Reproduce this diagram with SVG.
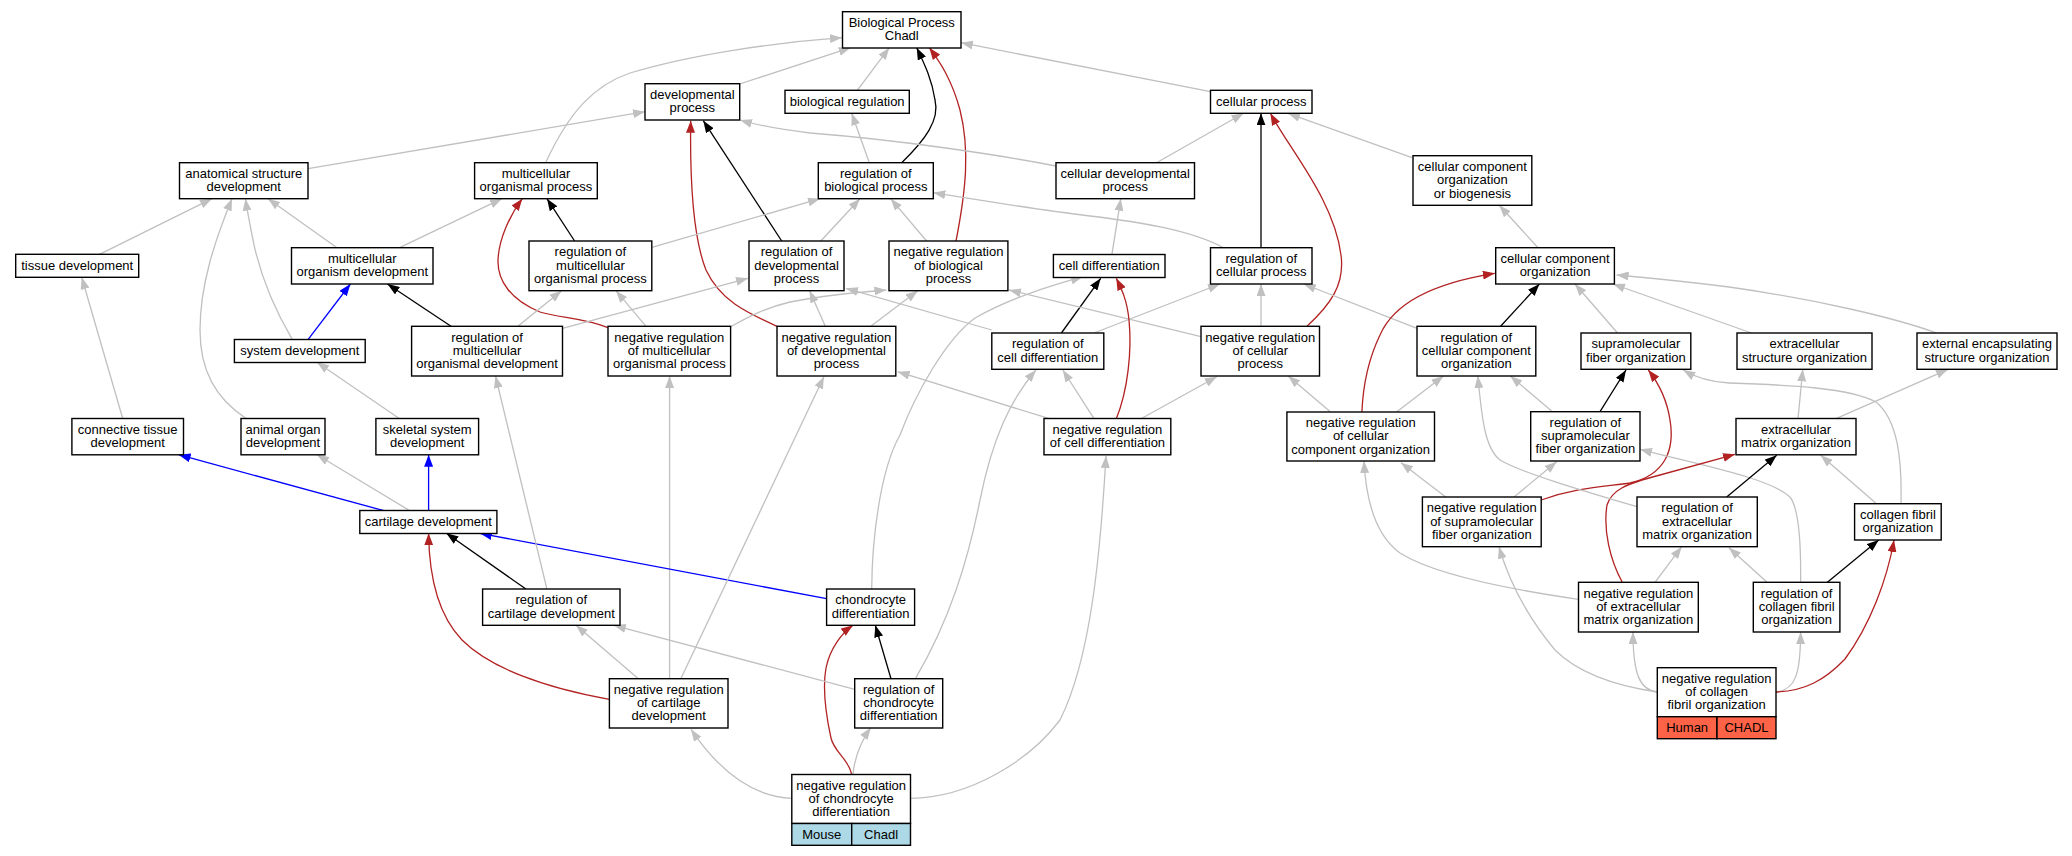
<svg xmlns="http://www.w3.org/2000/svg" width="2072" height="856" viewBox="0 0 2072 856">
<style>
.n rect{fill:#fff;stroke:#000;stroke-width:1.4}
.n text{font-family:"Liberation Sans",Arial,sans-serif;font-size:13px;text-anchor:middle;fill:#000}
#edges path{fill:none;stroke-width:1.3}
.g{stroke:#c0c0c0;marker-end:url(#ag)}
.k{stroke:#000;marker-end:url(#ak)}
.r{stroke:#b22222;marker-end:url(#ar)}
.b{stroke:#0000ff;marker-end:url(#ab)}
.n rect.mo{fill:#add8e6}
.n rect.hu{fill:#ff6347}
</style>
<defs>
<marker id="ag" viewBox="0 0 12 9" refX="12" refY="4.5" markerWidth="12" markerHeight="9" markerUnits="userSpaceOnUse" orient="auto"><path d="M0,0L12,4.5L0,9z" fill="#c0c0c0"/></marker>
<marker id="ak" viewBox="0 0 12 9" refX="12" refY="4.5" markerWidth="12" markerHeight="9" markerUnits="userSpaceOnUse" orient="auto"><path d="M0,0L12,4.5L0,9z" fill="#000"/></marker>
<marker id="ar" viewBox="0 0 12 9" refX="12" refY="4.5" markerWidth="12" markerHeight="9" markerUnits="userSpaceOnUse" orient="auto"><path d="M0,0L12,4.5L0,9z" fill="#b22222"/></marker>
<marker id="ab" viewBox="0 0 12 9" refX="12" refY="4.5" markerWidth="12" markerHeight="9" markerUnits="userSpaceOnUse" orient="auto"><path d="M0,0L12,4.5L0,9z" fill="#0000ff"/></marker>
</defs>
<rect width="2072" height="856" fill="#fff"/>
<g id="edges">
<path class="g" d="M545.5,163 C570,110 595,85 630,73 C690,55 770,43 842,37.7"/>
<path class="g" d="M739.7,84 L850.7,47.7"/>
<path class="g" d="M857.3,90.3 L889.3,47.7"/>
<path class="k" d="M901.7,162.7 C925,140 940,120 935,100 C932,80 925,65 916.7,47.7"/>
<path class="r" d="M956,241 C966,190 970,150 960,110 C952,80 940,62 929.3,47.7"/>
<path class="g" d="M1210.5,91.7 L961,42.7"/>
<path class="g" d="M308,168.7 L645,111.7"/>
<path class="g" d="M1056,166 C1000,155 900,140 810,133 C785,130 760,126 740,120"/>
<path class="k" d="M781.7,241 L703.3,120.7"/>
<path class="r" d="M777,326.3 C745,312 720,300 706,270 C692,235 690,170 690.7,120.7"/>
<path class="g" d="M869.3,162.7 L851.7,113.3"/>
<path class="g" d="M1156.5,162.7 L1243.6,113.3"/>
<path class="k" d="M1261,247.7 L1261,113.3"/>
<path class="r" d="M1307,326.3 C1330,305 1345,285 1341,255 C1334,200 1290,150 1270.4,113.3"/>
<path class="g" d="M1412,157.7 L1288,113.3"/>
<path class="g" d="M99,254.7 L212,198.7"/>
<path class="g" d="M246.4,418.7 C215,398 200,370 200,330 C200,285 215,240 232,198.7"/>
<path class="g" d="M292.4,339.7 C275,310 260,275 253,240 C249,220 247,210 245.5,198.7"/>
<path class="g" d="M337,247.7 L268,198.7"/>
<path class="g" d="M399.6,247.7 L502,198.7"/>
<path class="k" d="M574.6,241 L547,198.7"/>
<path class="r" d="M608,327.7 C585,318 560,318 540,312 C510,300 498,280 498,262 C498,240 510,215 522.3,198.7"/>
<path class="g" d="M651.8,247.3 L820,198.7"/>
<path class="g" d="M820.8,241 L860,198.7"/>
<path class="g" d="M926.6,241 L890.7,198.7"/>
<path class="g" d="M1223.5,247.7 C1190,230 1140,222 1090,216 C1040,210 990,202 933.3,192.7"/>
<path class="g" d="M1111.9,254.7 L1120.8,198.7"/>
<path class="b" d="M308,339.7 L350.4,284"/>
<path class="k" d="M451,326.3 L387.5,284"/>
<path class="g" d="M517.9,326.3 L561.6,290.7"/>
<path class="g" d="M646,326.3 L616,290.7"/>
<path class="g" d="M562.5,328.3 L748,278.3"/>
<path class="g" d="M730.6,326.7 C750,316 765,308 790,302 C820,296 860,292 886.4,290"/>
<path class="g" d="M991.8,330 L846,288.3"/>
<path class="k" d="M1061.4,333 L1100.7,278.3"/>
<path class="g" d="M1094,333 L1220,284"/>
<path class="g" d="M1201,336.7 L1009,290"/>
<path class="g" d="M1261,326.3 L1261,284"/>
<path class="g" d="M825.3,326.3 L809.6,290.7"/>
<path class="g" d="M870.8,326.3 L917.7,290.7"/>
<path class="g" d="M669.6,678.7 L669.6,376"/>
<path class="g" d="M871.7,589 C872,540 880,470 900,435 C915,395 945,340 975,318 C1010,298 1050,286 1082.9,276.7"/>
<path class="r" d="M1116.3,418.7 C1128,390 1132,350 1129,320 C1127,300 1122,290 1116.3,278.3"/>
<path class="g" d="M1094,418.7 L1062.8,370"/>
<path class="g" d="M1141,418.7 L1216.8,376.7"/>
<path class="g" d="M1049.4,418.7 L897.6,371.7"/>
<path class="g" d="M915.4,678.7 C950,620 968,560 980,500 C992,440 1010,400 1036,370"/>
<path class="g" d="M910.5,798.3 C970,798 1030,760 1060,720 C1090,660 1100,560 1106,456"/>
<path class="g" d="M791.8,798.3 C755,797 722,775 691,729.3"/>
<path class="g" d="M853,774 C855,755 862,740 870.8,727.7"/>
<path class="r" d="M851.6,774 C848,758 834,752 831,738 C826,715 822,690 826,668 C830,648 842,633 853,625.3"/>
<path class="k" d="M891,678.7 L875.3,625.3"/>
<path class="g" d="M854.7,689.3 L613.8,625.3"/>
<path class="b" d="M826.6,598.7 L479.9,533.3"/>
<path class="r" d="M609.4,699.3 C545,688 490,668 462,640 C435,612 429,570 428.6,533.3"/>
<path class="g" d="M638.4,678.7 L576,625.3"/>
<path class="g" d="M680.8,678.7 L823.9,376.7"/>
<path class="k" d="M525.9,589 L446.4,533.3"/>
<path class="g" d="M546.9,589 L495.5,376"/>
<path class="b" d="M384,510.7 L178.6,454.7"/>
<path class="g" d="M409.8,510.7 L317,454.7"/>
<path class="b" d="M428.6,510.7 L428.6,454.7"/>
<path class="g" d="M399.6,418.7 L317,362.3"/>
<path class="g" d="M122.8,418.7 L81.7,277.3"/>
<path class="g" d="M1538,247.7 L1499.2,205.3"/>
<path class="k" d="M1500.6,326.3 L1539.4,284"/>
<path class="g" d="M1617.5,333 L1575,284"/>
<path class="g" d="M1751.5,333 L1613,284"/>
<path class="g" d="M1936.7,333 C1895,318 1820,300 1729,287 C1690,282 1650,278 1616.6,275"/>
<path class="g" d="M1417,328.3 L1303.8,284"/>
<path class="r" d="M1361.9,412 C1363,385 1368,360 1380,335 C1395,300 1440,282 1494.8,273.3"/>
<path class="g" d="M1396.6,412 L1443.4,376"/>
<path class="g" d="M1330.6,412 L1288.2,376"/>
<path class="g" d="M1552.8,412 L1510.4,376"/>
<path class="k" d="M1600,411.7 L1626,370"/>
<path class="r" d="M1541.2,500 C1575,488 1600,487 1630,483 C1665,475 1675,450 1670,420 C1667,400 1660,385 1648.3,370"/>
<path class="g" d="M1445.7,497 L1401,462.7"/>
<path class="g" d="M1514,497 L1556.7,461.7"/>
<path class="g" d="M1578.5,599.3 C1500,588 1430,572 1400,553 C1375,535 1366,500 1364,461"/>
<path class="g" d="M1800.6,582.3 C1801,550 1800,510 1790,497 C1770,478 1700,465 1640,449.3"/>
<path class="g" d="M1767,582.3 L1729,547.7"/>
<path class="k" d="M1827.4,582.3 L1878.7,540"/>
<path class="k" d="M1726.7,497 L1776.7,455.3"/>
<path class="r" d="M1622.3,582.3 C1610,560 1603,530 1607,505 C1612,490 1625,484 1660,475 L1735,454.3"/>
<path class="g" d="M1637,506.7 C1580,490 1520,472 1500,460 C1485,448 1482,420 1477.8,376"/>
<path class="g" d="M1655,582.3 L1681.7,546.7"/>
<path class="g" d="M1876.5,503.7 L1820.7,455.3"/>
<path class="g" d="M1901,503.7 C1902,460 1898,420 1876,402 C1850,388 1790,385 1729,383 C1710,382 1695,377 1683.3,370"/>
<path class="g" d="M1798,418.7 L1802.8,369.3"/>
<path class="g" d="M1836,418.7 L1948,369.3"/>
<path class="g" d="M1657.3,692 C1640,690 1633,675 1633,632"/>
<path class="g" d="M1776,692 C1795,690 1800.6,675 1800.6,632"/>
<path class="r" d="M1776,692 C1805,691 1825,680 1845,659 C1870,625 1887,580 1894,540"/>
<path class="g" d="M1657.3,692 C1610,685 1575,670 1555,650 C1530,620 1510,585 1499,546.7"/>
</g>
<g id="bp" class="n"><rect x="842.5" y="11.7" width="118.5" height="36.3"/><text x="901.75" y="27">Biological Process</text><text x="901.75" y="40.3">Chadl</text></g>
<g id="dp" class="n"><rect x="645" y="83.7" width="94.7" height="36.3"/><text x="692.35" y="99">developmental</text><text x="692.35" y="112.3">process</text></g>
<g id="br" class="n"><rect x="785" y="90.3" width="124.3" height="23"/><text x="847.15" y="105.6">biological regulation</text></g>
<g id="cp" class="n"><rect x="1210.5" y="90.3" width="101.5" height="23"/><text x="1261.25" y="105.6">cellular process</text></g>
<g id="ast" class="n"><rect x="179.5" y="162.7" width="128.5" height="36"/><text x="243.75" y="177.85">anatomical structure</text><text x="243.75" y="191.15">development</text></g>
<g id="mop" class="n"><rect x="474.6" y="162.7" width="122.7" height="36"/><text x="535.95" y="177.85">multicellular</text><text x="535.95" y="191.15">organismal process</text></g>
<g id="rbp" class="n"><rect x="818.3" y="162.7" width="115" height="36"/><text x="875.8" y="177.85">regulation of</text><text x="875.8" y="191.15">biological process</text></g>
<g id="cdp" class="n"><rect x="1056" y="162.7" width="138.5" height="36"/><text x="1125.25" y="177.85">cellular developmental</text><text x="1125.25" y="191.15">process</text></g>
<g id="ccob" class="n"><rect x="1413" y="155.7" width="118.8" height="49.6"/><text x="1472.4" y="171">cellular component</text><text x="1472.4" y="184.3">organization</text><text x="1472.4" y="197.6">or biogenesis</text></g>
<g id="td" class="n"><rect x="15.7" y="254.3" width="123" height="23"/><text x="77.2" y="269.6">tissue development</text></g>
<g id="mod" class="n"><rect x="291.5" y="247.7" width="141.5" height="36.3"/><text x="362.25" y="263">multicellular</text><text x="362.25" y="276.3">organism development</text></g>
<g id="rmop" class="n"><rect x="529" y="241" width="122.8" height="49.7"/><text x="590.4" y="256.35">regulation of</text><text x="590.4" y="269.65">multicellular</text><text x="590.4" y="282.95">organismal process</text></g>
<g id="rdp" class="n"><rect x="749" y="241" width="95" height="49.7"/><text x="796.5" y="256.35">regulation of</text><text x="796.5" y="269.65">developmental</text><text x="796.5" y="282.95">process</text></g>
<g id="nrbp" class="n"><rect x="889" y="241" width="118.9" height="49.7"/><text x="948.45" y="256.35">negative regulation</text><text x="948.45" y="269.65">of biological</text><text x="948.45" y="282.95">process</text></g>
<g id="cd" class="n"><rect x="1053.4" y="254.5" width="111.6" height="23"/><text x="1109.2" y="269.8">cell differentiation</text></g>
<g id="rcp" class="n"><rect x="1210.5" y="247.7" width="101.5" height="36.3"/><text x="1261.25" y="263">regulation of</text><text x="1261.25" y="276.3">cellular process</text></g>
<g id="cco" class="n"><rect x="1495.7" y="247.7" width="118.7" height="36.3"/><text x="1555.05" y="263">cellular component</text><text x="1555.05" y="276.3">organization</text></g>
<g id="sd" class="n"><rect x="234.4" y="339.5" width="130.8" height="23"/><text x="299.8" y="354.8">system development</text></g>
<g id="rmod" class="n"><rect x="411.6" y="326.3" width="150.9" height="49.7"/><text x="487.05" y="341.65">regulation of</text><text x="487.05" y="354.95">multicellular</text><text x="487.05" y="368.25">organismal development</text></g>
<g id="nrmop" class="n"><rect x="608" y="326.3" width="122.6" height="49.7"/><text x="669.3" y="341.65">negative regulation</text><text x="669.3" y="354.95">of multicellular</text><text x="669.3" y="368.25">organismal process</text></g>
<g id="nrdp" class="n"><rect x="777" y="326.3" width="118.8" height="49.7"/><text x="836.4" y="341.65">negative regulation</text><text x="836.4" y="354.95">of developmental</text><text x="836.4" y="368.25">process</text></g>
<g id="rcd" class="n"><rect x="991.8" y="333" width="112" height="36.3"/><text x="1047.8" y="348.3">regulation of</text><text x="1047.8" y="361.6">cell differentiation</text></g>
<g id="nrcp" class="n"><rect x="1201" y="326.3" width="118.5" height="49.7"/><text x="1260.25" y="341.65">negative regulation</text><text x="1260.25" y="354.95">of cellular</text><text x="1260.25" y="368.25">process</text></g>
<g id="rcco" class="n"><rect x="1417" y="326.3" width="118.8" height="49.7"/><text x="1476.4" y="341.65">regulation of</text><text x="1476.4" y="354.95">cellular component</text><text x="1476.4" y="368.25">organization</text></g>
<g id="sfo" class="n"><rect x="1581" y="333" width="109.8" height="36.3"/><text x="1635.9" y="348.3">supramolecular</text><text x="1635.9" y="361.6">fiber organization</text></g>
<g id="eso" class="n"><rect x="1737" y="333" width="135" height="36.3"/><text x="1804.5" y="348.3">extracellular</text><text x="1804.5" y="361.6">structure organization</text></g>
<g id="eeso" class="n"><rect x="1917" y="333" width="140" height="36.3"/><text x="1987" y="348.3">external encapsulating</text><text x="1987" y="361.6">structure organization</text></g>
<g id="ctd" class="n"><rect x="71.9" y="418.5" width="111.6" height="36.3"/><text x="127.7" y="433.8">connective tissue</text><text x="127.7" y="447.1">development</text></g>
<g id="aod" class="n"><rect x="241" y="418.5" width="84" height="36.3"/><text x="283" y="433.8">animal organ</text><text x="283" y="447.1">development</text></g>
<g id="ssd" class="n"><rect x="375.9" y="418.5" width="102.7" height="36.3"/><text x="427.25" y="433.8">skeletal system</text><text x="427.25" y="447.1">development</text></g>
<g id="nrcdiff" class="n"><rect x="1044" y="418.5" width="126.8" height="36.3"/><text x="1107.4" y="433.8">negative regulation</text><text x="1107.4" y="447.1">of cell differentiation</text></g>
<g id="nrcco" class="n"><rect x="1286.9" y="412" width="147.6" height="49"/><text x="1360.7" y="427">negative regulation</text><text x="1360.7" y="440.3">of cellular</text><text x="1360.7" y="453.6">component organization</text></g>
<g id="rsfo" class="n"><rect x="1530.7" y="411.7" width="109.3" height="49.3"/><text x="1585.35" y="426.85">regulation of</text><text x="1585.35" y="440.15">supramolecular</text><text x="1585.35" y="453.45">fiber organization</text></g>
<g id="ecmo" class="n"><rect x="1736" y="418.5" width="120" height="36.3"/><text x="1796" y="433.8">extracellular</text><text x="1796" y="447.1">matrix organization</text></g>
<g id="cartd" class="n"><rect x="359.8" y="510.5" width="137.1" height="23"/><text x="428.35" y="525.8">cartilage development</text></g>
<g id="nrsfo" class="n"><rect x="1422.4" y="497" width="118.8" height="49.7"/><text x="1481.8" y="512.35">negative regulation</text><text x="1481.8" y="525.65">of supramolecular</text><text x="1481.8" y="538.95">fiber organization</text></g>
<g id="remo" class="n"><rect x="1637" y="497" width="120.3" height="49.7"/><text x="1697.15" y="512.35">regulation of</text><text x="1697.15" y="525.65">extracellular</text><text x="1697.15" y="538.95">matrix organization</text></g>
<g id="cfo" class="n"><rect x="1854.6" y="503.7" width="86.6" height="36.3"/><text x="1897.9" y="519">collagen fibril</text><text x="1897.9" y="532.3">organization</text></g>
<g id="rcartd" class="n"><rect x="482.6" y="589" width="137.4" height="36.3"/><text x="551.3" y="604.3">regulation of</text><text x="551.3" y="617.6">cartilage development</text></g>
<g id="chd" class="n"><rect x="826.6" y="589" width="88" height="36.3"/><text x="870.6" y="604.3">chondrocyte</text><text x="870.6" y="617.6">differentiation</text></g>
<g id="nremo" class="n"><rect x="1578.5" y="582.3" width="119.8" height="49.7"/><text x="1638.4" y="597.65">negative regulation</text><text x="1638.4" y="610.95">of extracellular</text><text x="1638.4" y="624.25">matrix organization</text></g>
<g id="rcfo" class="n"><rect x="1753.3" y="582.3" width="86.6" height="49.7"/><text x="1796.6" y="597.65">regulation of</text><text x="1796.6" y="610.95">collagen fibril</text><text x="1796.6" y="624.25">organization</text></g>
<g id="nrcartd" class="n"><rect x="609.4" y="678.7" width="118.6" height="49.3"/><text x="668.7" y="693.85">negative regulation</text><text x="668.7" y="707.15">of cartilage</text><text x="668.7" y="720.45">development</text></g>
<g id="rchd" class="n"><rect x="854.7" y="678.7" width="88" height="49.3"/><text x="898.7" y="693.85">regulation of</text><text x="898.7" y="707.15">chondrocyte</text><text x="898.7" y="720.45">differentiation</text></g>
<g id="nrchd" class="n"><rect x="791.8" y="774.5" width="118.7" height="49"/><text x="851.15" y="789.5">negative regulation</text><text x="851.15" y="802.8">of chondrocyte</text><text x="851.15" y="816.1">differentiation</text><rect class="mo" x="791.8" y="823.5" width="59.9" height="21.8"/><rect class="mo" x="851.7" y="823.5" width="58.8" height="21.8"/><text x="821.75" y="838.6">Mouse</text><text x="881.1" y="838.6">Chadl</text></g>
<g id="ncfo" class="n"><rect x="1657.3" y="667.7" width="118.7" height="49"/><text x="1716.65" y="682.7">negative regulation</text><text x="1716.65" y="696">of collagen</text><text x="1716.65" y="709.3">fibril organization</text><rect class="hu" x="1657.3" y="716.7" width="59.7" height="22"/><rect class="hu" x="1717" y="716.7" width="59" height="22"/><text x="1687.15" y="731.9">Human</text><text x="1746.5" y="731.9">CHADL</text></g>
</svg>
